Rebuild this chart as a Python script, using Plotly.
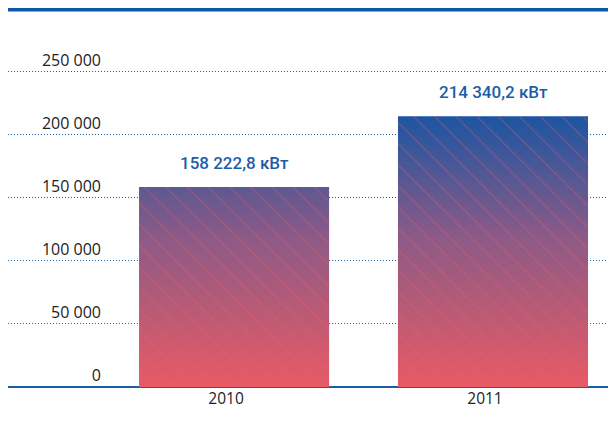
import plotly.graph_objects as go

# Data
years = ["2010", "2011"]
power_kw = [158222.8, 214340.2]
y_ticks = [0, 50000, 100000, 150000, 200000, 250000]

BLUE = "#1a5ea8"
RED = "#e85a66"
GRAD_TOP = "#1c55a2"
BAR_W = 0.734
X_RANGE = [-0.873, 1.475]
Y_RANGE = [0, 300000]

def fmt_kw(v):
    s = f"{v:,.1f}".replace(",", " ").replace(".", ",")
    return s + " кВт"

fig = go.Figure()

# gradient fill for each bar (base axes)
for i, v in enumerate(power_kw):
    fig.add_trace(go.Scatter(
        x=[i - BAR_W / 2, i + BAR_W / 2, i + BAR_W / 2, i - BAR_W / 2, i - BAR_W / 2],
        y=[0, 0, v, v, 0],
        mode="lines",
        line=dict(width=0),
        fill="toself",
        fillgradient=dict(type="vertical", colorscale=[[0, RED], [0.55, "#8d5a86"], [1, GRAD_TOP]],
                          start=0, stop=max(power_kw)),
        hoverinfo="skip",
        showlegend=False,
    ))

# the bars, on overlaying axes so the thin line pattern sits over the gradient
fig.add_trace(go.Bar(
    x=list(range(len(years))),
    y=power_kw,
    width=BAR_W,
    xaxis="x2", yaxis="y2",
    marker=dict(color="rgba(0,0,0,0)", line=dict(width=0),
                pattern=dict(shape="\\", fgcolor="rgba(240,92,102,0.8)", bgcolor="rgba(0,0,0,0)",
                             size=15, solidity=0.07, fillmode="overlay")),
    showlegend=False,
    hovertemplate="%{y:,.1f} кВт<extra></extra>",
))

# value labels above bars
for i, v in enumerate(power_kw):
    fig.add_annotation(
        x=i, y=v, text=fmt_kw(v), showarrow=False,
        yshift=24, font=dict(family="Roboto, Open Sans, sans-serif", size=17, color=BLUE, weight=500),
    )

fig.update_layout(
    width=608, height=405,
    margin=dict(l=0, r=0, t=0, b=26),
    plot_bgcolor="white", paper_bgcolor="white",
    separators=", ",
    font=dict(family="Open Sans, sans-serif", size=16, color="#222222"),
    showlegend=False,
    xaxis2=dict(overlaying="x", range=X_RANGE, visible=False),
    yaxis2=dict(overlaying="y", range=Y_RANGE, visible=False),
)

fig.update_layout(xaxis=dict(
    range=X_RANGE,
    tickvals=list(range(len(years))),
    ticktext=years,
    ticklabelshift=-8,
    showgrid=False, zeroline=False, showline=False, ticks="",
    tickfont=dict(size=15.5, color="#222222"),
))

fig.update_layout(yaxis=dict(
    range=Y_RANGE,
    tickvals=y_ticks,
    tickformat=",.0f",
    anchor="free", position=0.153,
    ticklabelposition="outside top",
    ticks="",
    showline=False,
    showgrid=True, gridcolor=BLUE, gridwidth=1, griddash="1px,2px",
    zeroline=True, zerolinecolor=BLUE, zerolinewidth=2,
    tickfont=dict(size=16, color="#222222"),
))

# thick rule along the top
fig.add_shape(type="rect", xref="paper", yref="paper", x0=0, x1=1, y0=1 - 3.5 / 379, y1=1,
              line=dict(width=0), fillcolor="#0a58a6")

fig.write_html("out.html")
